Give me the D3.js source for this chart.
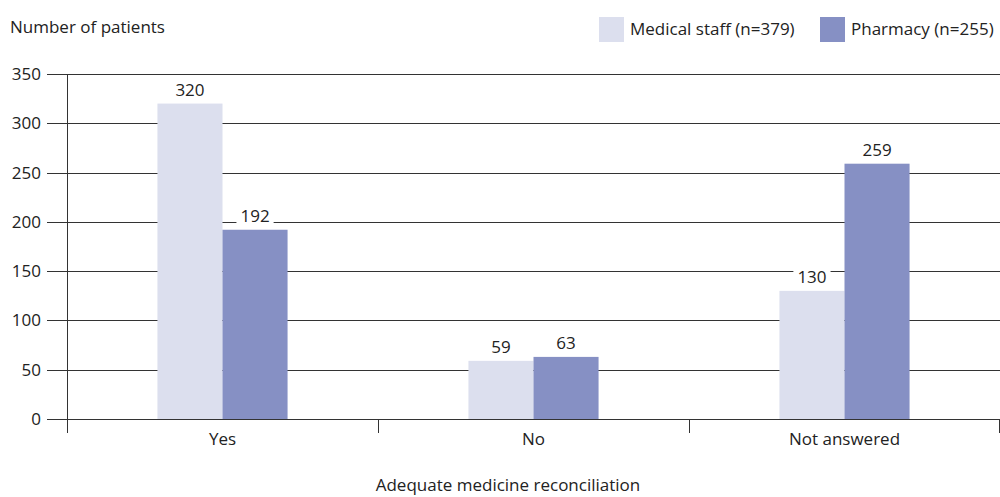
<!DOCTYPE html>
<html><head><meta charset="utf-8">
<script src="https://cdn.jsdelivr.net/npm/d3@7"></script>
<style>body{margin:0;background:#fff;} text{font-family:"Open Sans","Noto Sans",sans-serif;fill:#222;}</style>
</head><body><svg id="c" width="1000" height="497"></svg>
<script>
const categories = ["Yes", "No", "Not answered"];
const seriesNames = ["Medical staff (n=379)", "Pharmacy (n=255)"];
const medical = [320, 59, 130];
const pharmacy = [192, 63, 259];
const yTicks = [0, 50, 100, 150, 200, 250, 300, 350];
const colors = ["#dcdfee", "#8690c4"];

const FS = 17;
const svg = d3.select("#c");
const m = {l: 67, r: 1000, t: 74, b: 419};
const x = d3.scaleBand().domain(categories).range([m.l, m.r]).paddingInner(0).paddingOuter(0);
const y = d3.scaleLinear().domain([0, 350]).range([m.b, m.t]);
const inner = d3.scaleBand().domain([0,1]).range([0, x.bandwidth()]).paddingInner(0).paddingOuter(1.39);

// gridlines
svg.append("g").selectAll("line").data(yTicks).join("line")
  .attr("x1", 47).attr("x2", 1000).attr("y1", d=>Math.round(y(d))+0.5).attr("y2", d=>Math.round(y(d))+0.5)
  .attr("stroke", "#333").attr("stroke-width", 1);
svg.append("g").selectAll("text").data(yTicks).join("text")
  .attr("x", 41).attr("y", d=>y(d)).attr("dy", "0.35em").attr("text-anchor", "end")
  .attr("font-size", FS).text(d=>d);

const data = categories.map((c,i)=>({c, vals:[medical[i], pharmacy[i]]}));
const g = svg.append("g");
data.forEach(d=>{
  d.vals.forEach((v,j)=>{
    g.append("rect").attr("x", x(d.c)+inner(j)).attr("width", inner.bandwidth())
      .attr("y", y(v)).attr("height", y(0)-y(v)).attr("fill", colors[j]);
  });
});
// labels with white background
data.forEach(d=>{
  d.vals.forEach((v,j)=>{
    const cx = x(d.c)+inner(j)+inner.bandwidth()/2;
    const ty = y(v)-8;
    const t = svg.append("text").attr("x", cx).attr("y", ty).attr("text-anchor","middle")
      .attr("font-size", FS).text(v);
    const bb = t.node().getBBox();
    svg.insert("rect", function(){return t.node();}).attr("x", bb.x-4).attr("y", bb.y+2).attr("width", bb.width+8).attr("height", bb.height-3).attr("fill", "#fff");
  });
});

// axes lines
svg.append("line").attr("x1", m.l+0.5).attr("x2", m.l+0.5).attr("y1", y(350)).attr("y2", 433).attr("stroke", "#333");
svg.append("g").selectAll("line").data(categories).join("line")
  .attr("x1", d=>Math.min(x(d)+x.bandwidth(), 999)+0.5).attr("x2", d=>Math.min(x(d)+x.bandwidth(),999)+0.5)
  .attr("y1", m.b).attr("y2", 433).attr("stroke", "#333");
svg.append("g").selectAll("text").data(categories).join("text")
  .attr("x", d=>x(d)+x.bandwidth()/2).attr("y", 439).attr("dy", "0.35em").attr("text-anchor","middle")
  .attr("font-size", FS).text(d=>d);

svg.append("text").attr("x", 10).attr("y", 33).attr("font-size", FS).text("Number of patients");
svg.append("text").attr("x", 508).attr("y", 491).attr("text-anchor","middle").attr("font-size", FS).text("Adequate medicine reconciliation");

// legend
const legX = [599, 820];
seriesNames.forEach((s,i)=>{
  svg.append("rect").attr("x", legX[i]).attr("y", 17).attr("width", 25).attr("height", 25).attr("fill", colors[i]);
  svg.append("text").attr("x", legX[i]+31).attr("y", 29.5).attr("dy","0.35em").attr("font-size", FS).text(s);
});
</script></body></html>
